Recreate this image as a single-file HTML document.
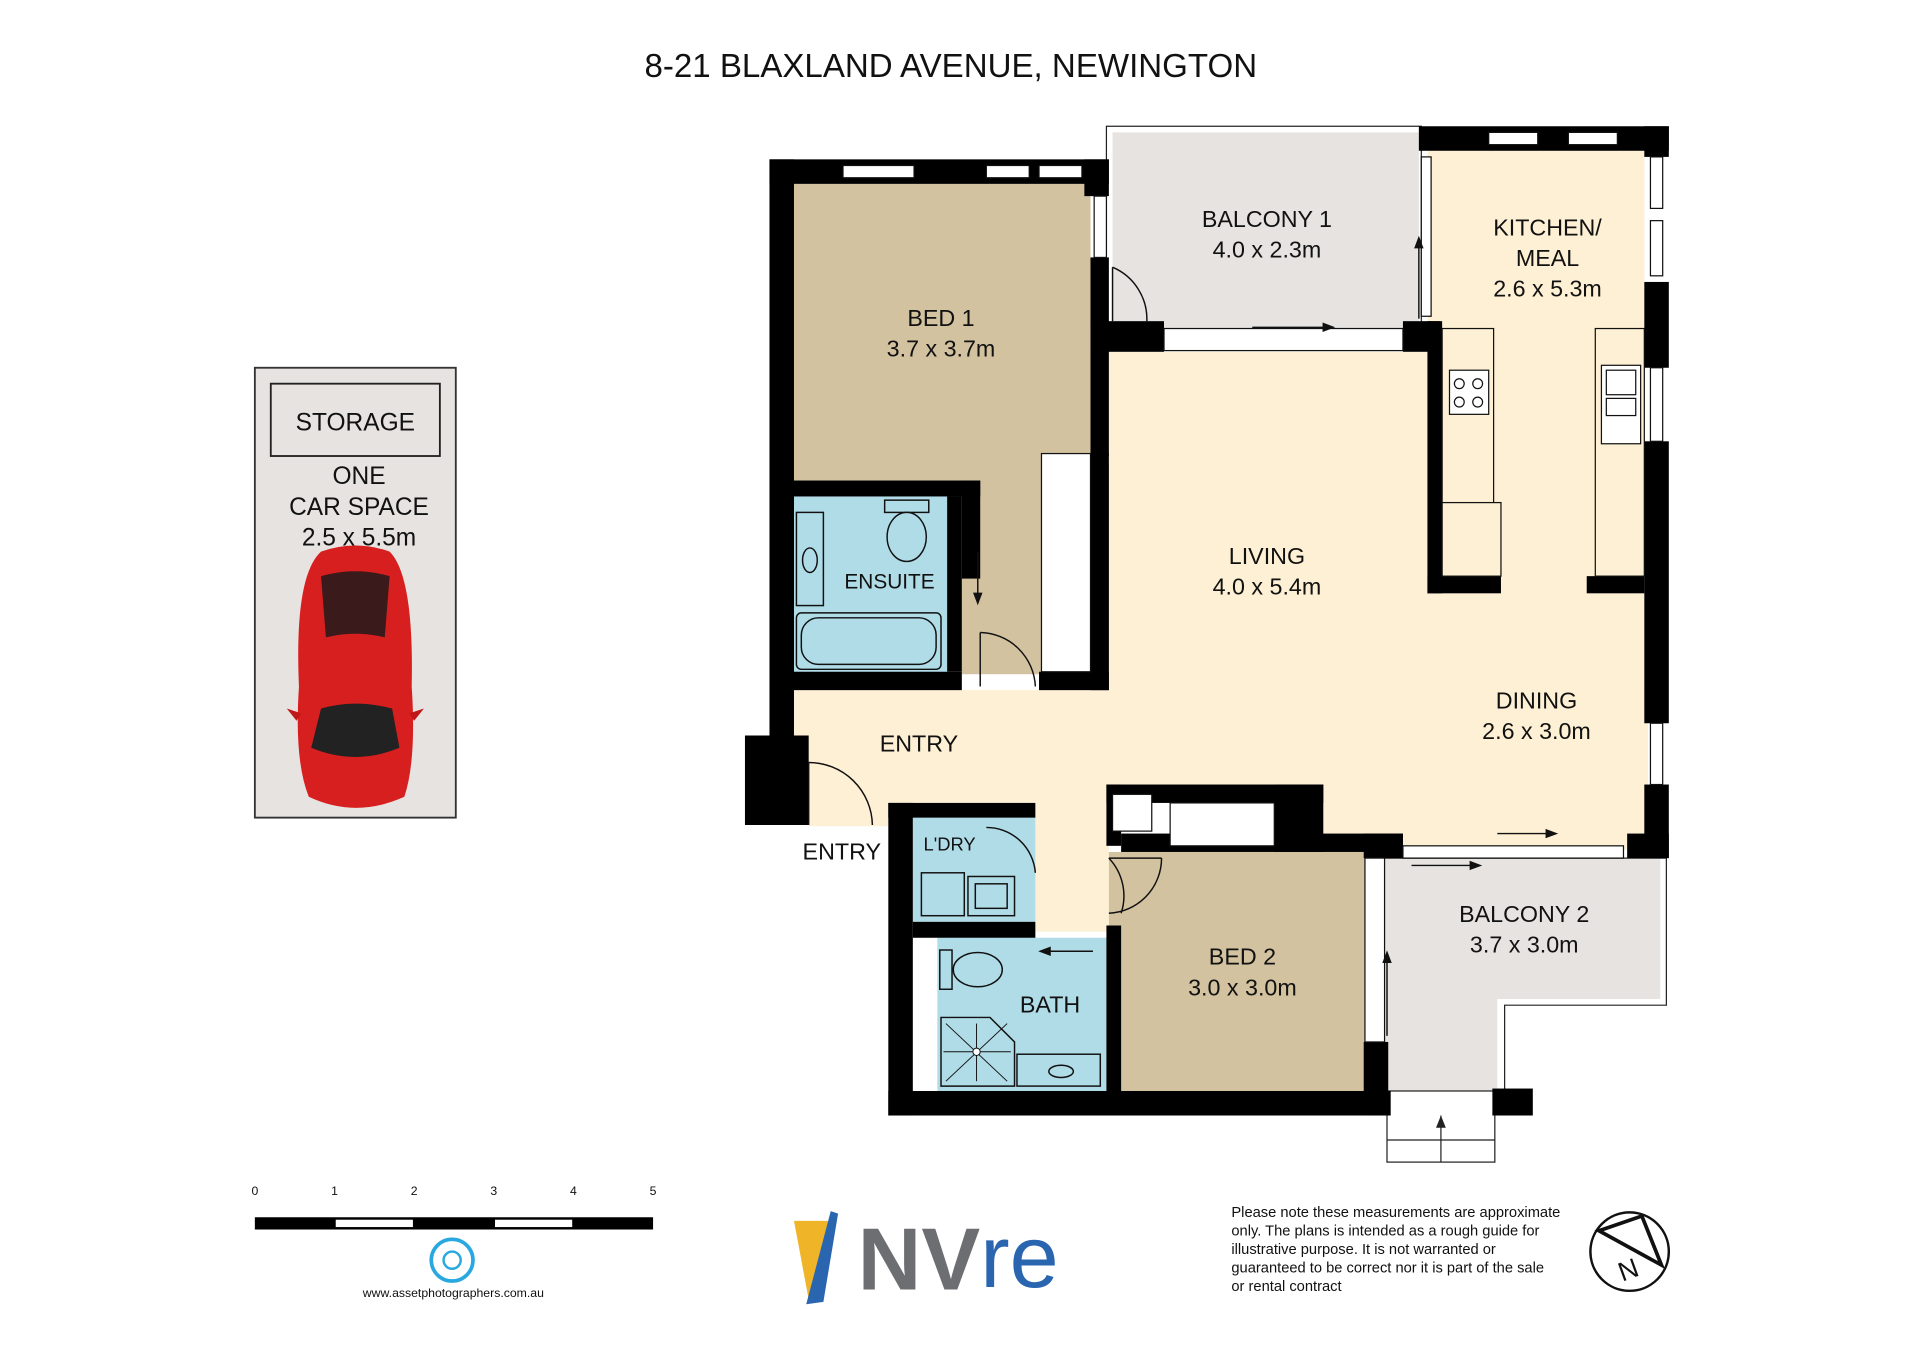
<!DOCTYPE html>
<html><head><meta charset="utf-8"><style>
html,body{margin:0;padding:0;background:#fff;}
svg{display:block;}
text{font-family:"Liberation Sans",Arial,sans-serif;fill:#111;}
</style></head><body>
<svg width="1920" height="1357" viewBox="0 0 1567 1107" preserveAspectRatio="none" xmlns="http://www.w3.org/2000/svg">
<rect width="1567" height="1107" fill="#fff"/>
<text x="776" y="63" font-size="27" text-anchor="middle">8-21 BLAXLAND AVENUE, NEWINGTON</text>

<rect x="208" y="300" width="164" height="367" fill="#e6e3e0" stroke="#333" stroke-width="1.5"/>
<rect x="221" y="313" width="138" height="59" fill="none" stroke="#222" stroke-width="1.5"/>
<text x="290" y="351" font-size="20" text-anchor="middle">STORAGE</text>
<text x="293" y="395" font-size="20" text-anchor="middle">ONE</text>
<text x="293" y="420" font-size="20" text-anchor="middle">CAR SPACE</text>
<text x="293" y="445" font-size="20" text-anchor="middle">2.5 x 5.5m</text>
<g>
<path d="M262 450 Q290 440 318 450 Q338 470 336 560 Q340 620 330 650 Q290 668 252 650 Q240 620 244 560 Q240 470 262 450Z" fill="#d71f1f"/>
<path d="M262 470 Q290 462 318 470 L314 520 Q290 514 266 520Z" fill="#3a1a1a"/>
<path d="M262 578 Q290 570 320 578 L326 610 Q290 625 254 610Z" fill="#222"/>
<path d="M234 578 l12 4 l-4 6z M346 578 l-12 4 l4 6z" fill="#c01818"/>
</g>

<rect x="903" y="103" width="257" height="180" fill="none" stroke="#222" stroke-width="1"/>
<rect x="908" y="108" width="250" height="160" fill="#e6e3e1"/>
<rect x="1165" y="123" width="177" height="570" fill="#fdf0d4"/>
<rect x="905" y="287" width="262" height="360" fill="#fdf0d4"/>
<rect x="648" y="563" width="500" height="92" fill="#fdf0d4"/>
<rect x="1080" y="560" width="265" height="133" fill="#fdf0d4"/>
<rect x="845" y="640" width="60" height="120" fill="#fdf0d4"/>
<rect x="660" y="640" width="65" height="34" fill="#fdf0d4"/>
<rect x="648" y="150" width="242" height="242" fill="#d3c2a0"/>
<rect x="785" y="380" width="120" height="170" fill="#d3c2a0"/>
<rect x="648" y="405" width="125" height="145" fill="#b0dce8"/>
<rect x="905" y="695" width="210" height="195" fill="#d3c2a0"/>
<rect x="745" y="665" width="100" height="87" fill="#b0dce8"/>
<rect x="765" y="765" width="140" height="125" fill="#b0dce8"/>
<path d="M1120 700 H1355 V815 H1222 V890 H1132 V910 H1120Z" fill="#e6e3e1"/>
<path d="M1120 700 H1360 V820 H1228 V890" fill="none" stroke="#222" stroke-width="1"/>
<rect x="1132" y="890" width="88" height="58" fill="#fff" stroke="#222" stroke-width="1"/>
<line x1="1132" y1="930" x2="1220" y2="930" stroke="#222"/>
<line x1="1176" y1="948" x2="1176" y2="910" stroke="#222"/><path d="M1172 920 l4-10 l4 10z" fill="#222"/>

<g fill="#000">
<rect x="628" y="130" width="277" height="20"/>
<rect x="628" y="130" width="20" height="470"/>
<rect x="608" y="600" width="52" height="73"/>
<rect x="885" y="130" width="20" height="30"/>
<rect x="890" y="210" width="15" height="55"/>
<rect x="890" y="262" width="60" height="25"/>
<rect x="890" y="262" width="15" height="110"/>
<rect x="1145" y="262" width="30" height="25"/>
<rect x="1158" y="103" width="204" height="20"/>
<rect x="1342" y="103" width="20" height="25"/>
<rect x="1342" y="230" width="20" height="70"/>
<rect x="1342" y="360" width="20" height="230"/>
<rect x="1342" y="640" width="20" height="60"/>
<rect x="1165" y="262" width="12" height="222"/>
<rect x="1165" y="470" width="60" height="14"/>
<rect x="1295" y="470" width="47" height="14"/>
<rect x="1325" y="440" width="17" height="30"/>
<rect x="848" y="548" width="57" height="15"/>
<rect x="890" y="370" width="15" height="193"/>
<rect x="785" y="392" width="15" height="80"/>
<rect x="640" y="392" width="160" height="13"/>
<rect x="640" y="392" width="8" height="170"/>
<rect x="640" y="548" width="145" height="15"/>
<rect x="773" y="405" width="12" height="143"/>
<rect x="725" y="655" width="120" height="12"/>
<rect x="725" y="655" width="20" height="255"/>
<rect x="745" y="752" width="100" height="13"/>
<rect x="725" y="890" width="410" height="20"/>
<rect x="903" y="640" width="12" height="50"/>
<rect x="903" y="640" width="177" height="15"/>
<rect x="1040" y="640" width="40" height="55"/>
<rect x="915" y="680" width="230" height="15"/>
<rect x="1113" y="680" width="32" height="20"/>
<rect x="1113" y="850" width="20" height="60"/>
<rect x="1328" y="680" width="34" height="20"/>
<rect x="1218" y="888" width="33" height="22"/>
<rect x="903" y="755" width="12" height="135"/>
</g>
<g fill="#fff" stroke="#111" stroke-width="1">
<rect x="688" y="135" width="58" height="10"/><rect x="805" y="135" width="35" height="10"/><rect x="848" y="135" width="35" height="10"/>
<rect x="1215" y="108" width="40" height="10"/><rect x="1280" y="108" width="40" height="10"/>
<rect x="1347" y="128" width="10" height="42"/><rect x="1347" y="180" width="10" height="45"/><rect x="1347" y="300" width="10" height="60"/><rect x="1347" y="590" width="10" height="50"/>
<rect x="893" y="160" width="10" height="50"/>
<rect x="950" y="268" width="195" height="18"/>
<rect x="1145" y="690" width="180" height="10"/>
<rect x="1114" y="700" width="16" height="150"/>
<rect x="1160" y="128" width="8" height="130"/>
<rect x="850" y="370" width="40" height="178"/>
<rect x="955" y="655" width="85" height="35"/>
<rect x="908" y="648" width="32" height="30"/>
</g>
<g fill="#fdf0d4" stroke="#111" stroke-width="1">
<rect x="1177" y="268" width="42" height="202"/>
<rect x="1177" y="410" width="48" height="60"/>
<rect x="1302" y="268" width="40" height="202"/>
</g>
<rect x="1183" y="302" width="32" height="36" fill="#fff" stroke="#111"/>
<g fill="none" stroke="#111"><circle cx="1191" cy="313" r="4"/><circle cx="1206" cy="313" r="4"/><circle cx="1191" cy="328" r="4"/><circle cx="1206" cy="328" r="4"/></g>
<rect x="1307" y="298" width="32" height="64" fill="#fff" stroke="#111"/>
<rect x="1311" y="302" width="24" height="20" fill="none" stroke="#111"/><rect x="1311" y="325" width="24" height="14" fill="none" stroke="#111"/>
<g fill="none" stroke="#111" stroke-width="1.2">
<path d="M908 218 A46 46 0 0 1 936 262"/><line x1="908" y1="218" x2="908" y2="262"/>
<path d="M800 516 A46 46 0 0 1 845 560"/><line x1="800" y1="516" x2="800" y2="560"/>
<path d="M660 622 A52 52 0 0 1 712 673"/><line x1="660" y1="622" x2="660" y2="673"/>
<path d="M805 675 A40 40 0 0 1 845 712"/>
<path d="M905 700 A45 45 0 0 1 915 745"/><line x1="905" y1="700" x2="948" y2="700"/><path d="M948 700 A45 45 0 0 1 905 745"/>
</g>
<g stroke="#111" stroke-width="1.2" fill="#111">
<line x1="1022" y1="267" x2="1080" y2="267"/><path d="M1080 264 l8 3 l-8 3z"/>
<line x1="1222" y1="680" x2="1262" y2="680"/><path d="M1262 677 l8 3 l-8 3z"/>
<line x1="1152" y1="706" x2="1200" y2="706"/><path d="M1200 703 l8 3 l-8 3z"/>
<line x1="1132" y1="845" x2="1132" y2="785"/><path d="M1129 785 l3 -8 l3 8z"/>
<line x1="1158" y1="260" x2="1158" y2="200"/><path d="M1155 202 l3-8 l3 8z"/>
<line x1="798" y1="450" x2="798" y2="488"/><path d="M795 484 l3 8 l3-8z"/>
<line x1="892" y1="776" x2="855" y2="776"/><path d="M857 773 l-8 3 l8 3z"/>
</g>
<g fill="#b0dce8" stroke="#111" stroke-width="1.2">
<rect x="650" y="500" width="118" height="46" rx="4"/><rect x="654" y="504" width="110" height="38" rx="14"/>
<rect x="722" y="408" width="36" height="10"/><ellipse cx="740" cy="438" rx="16" ry="20"/>
<rect x="650" y="418" width="22" height="76"/><ellipse cx="661" cy="457" rx="6" ry="10"/>
<rect x="752" y="712" width="35" height="35"/><rect x="790" y="715" width="38" height="32"/><rect x="796" y="721" width="26" height="20"/>
<rect x="767" y="775" width="10" height="32"/><ellipse cx="798" cy="791" rx="20" ry="14"/>
<path d="M768 830 H808 L828 850 V886 H768Z"/>
<rect x="830" y="860" width="68" height="26"/><ellipse cx="866" cy="874" rx="10" ry="5"/>
</g>
<g stroke="#111" stroke-width="0.8"><line x1="772" y1="835" x2="822" y2="882"/><line x1="772" y1="882" x2="822" y2="835"/><line x1="797" y1="835" x2="797" y2="882"/><line x1="770" y1="858" x2="825" y2="858"/><circle cx="797" cy="858" r="3" fill="#fff"/></g>

<g font-size="19" text-anchor="middle">
<text x="768" y="266">BED 1</text><text x="768" y="291">3.7 x 3.7m</text>
<text x="1034" y="185">BALCONY 1</text><text x="1034" y="210">4.0 x 2.3m</text>
<text x="1263" y="192">KITCHEN/</text><text x="1263" y="217">MEAL</text><text x="1263" y="242">2.6 x 5.3m</text>
<text x="1034" y="460">LIVING</text><text x="1034" y="485">4.0 x 5.4m</text>
<text x="1254" y="578">DINING</text><text x="1254" y="603">2.6 x 3.0m</text>
<text x="750" y="613">ENTRY</text><text x="687" y="701">ENTRY</text>
<text x="726" y="480" font-size="17">ENSUITE</text>
<text x="775" y="694" font-size="15">L'DRY</text>
<text x="857" y="826">BATH</text>
<text x="1014" y="787">BED 2</text><text x="1014" y="812">3.0 x 3.0m</text>
<text x="1244" y="752">BALCONY 2</text><text x="1244" y="777">3.7 x 3.0m</text>
</g>

<g font-size="10" text-anchor="middle"><text x="208" y="975">0</text><text x="273" y="975">1</text><text x="338" y="975">2</text><text x="403" y="975">3</text><text x="468" y="975">4</text><text x="533" y="975">5</text></g>
<rect x="208" y="993" width="325" height="10" fill="#000"/>
<rect x="274" y="995" width="63" height="6" fill="#fff"/><rect x="404" y="995" width="63" height="6" fill="#fff"/>
<circle cx="369" cy="1028" r="17" fill="none" stroke="#29a8e0" stroke-width="3"/><circle cx="369" cy="1028" r="7" fill="none" stroke="#29a8e0" stroke-width="2"/>
<text x="370" y="1058" font-size="10" text-anchor="middle">www.assetphotographers.com.au</text>
<path d="M648 996 L676 996 L670 1040 L660 1060 Z" fill="#f0b429"/>
<path d="M678 988 L684 990 L672 1062 L658 1064 Z" fill="#2a66b0"/>
<text x="700" y="1052" font-size="72" font-weight="bold" style="fill:#6d6e71">NV</text>
<text x="800" y="1050" font-size="72" style="fill:#2a66b0">re</text>
<g font-size="12"><text x="1005" y="993">Please note these measurements are approximate</text><text x="1005" y="1008">only. The plans is intended as a rough guide for</text><text x="1005" y="1023">illustrative purpose. It is not warranted or</text><text x="1005" y="1038">guaranteed to be correct nor it is part of the sale</text><text x="1005" y="1053">or rental contract</text></g>
<circle cx="1330" cy="1021" r="32" fill="none" stroke="#111" stroke-width="2"/>
<path d="M1305 1004 L1340 992 L1356 1032 Z" fill="none" stroke="#111" stroke-width="3"/>
<text x="1322" y="1046" font-size="22" transform="rotate(-20 1322 1040)">N</text>
</svg>
</body></html>
